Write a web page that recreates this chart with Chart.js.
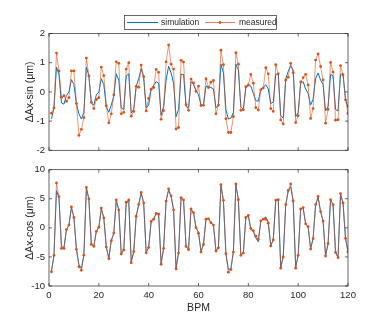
<!DOCTYPE html>
<html>
<head>
<meta charset="utf-8">
<script src="https://cdn.jsdelivr.net/npm/chart.js@4.4.1/dist/chart.umd.min.js"></script>
<style>
  body { margin: 0; background: #fff; }
  #wrap { position: relative; width: 374px; height: 336px; }
  canvas { position: absolute; left: 0; }
  #cSin { top: 0; }
  #cCos { top: 160px; }
</style>
</head>
<body>
<div id="wrap">
  <canvas id="cSin" width="374" height="160"></canvas>
  <canvas id="cCos" width="374" height="176"></canvas>
</div>
<script>
// BPM index 1..120
const bpm = Array.from({ length: 120 }, (_, i) => i + 1);

const xTicks = [0, 20, 40, 60, 80, 100, 120];
const sinTicks = [-2, -1, 0, 1, 2];
const cosTicks = [-10, -5, 0, 5, 10];

const sinMeasured = [
  -0.73, -0.55, 1.33, 0.72, -0.18, -0.13, -0.32, -0.2, 0.72, 0.72,
  -0.4, -1.49, -1.28, -0.88, 1.16, 0.55, -0.36, -0.57, -0.26, -0.2,
  0.85, 0.56, -0.48, -1.06, -0.75, -0.1, 1.03, 0.98, -0.75, -0.7,
  0.78, 1.0, -0.83, -0.67, 0.19, 0.16, 0.92, 0.52, -0.65, -0.22,
  0.09, 0.15, 0.77, 0.67, -0.94, -0.64, 1.03, 1.61, 0.95, 0.78,
  -1.27, -1.22, 1.08, 1.02, -0.44, -0.63, 0.44, 0.31, 0.02, 0.2,
  -0.47, -0.46, 0.45, 0.15, 0.33, 0.39, -0.75, -0.45, 1.43, 0.93,
  -0.92, -1.39, -1.39, -0.85, 1.34, 0.95, -0.63, -0.61, 0.18, 0.24,
  0.6, 0.3, -0.54, -0.62, 0.07, 0.13, 0.83, 0.62, -0.57, -0.67,
  0.93, 0.62, -0.96, -1.1, 0.41, 0.5, 0.98, 0.66, -1.05, -0.82,
  0.34, 0.49, 0.6, 0.24, -0.91, -0.57, 1.09, 1.3, 0.87, 0.41,
  -1.07, -0.6, 1.01, 0.68, -0.97, -0.95, 0.9, 0.58, -0.27, -0.74
];

const sinSimulation = [
  -0.92, -0.55, 0.85, 0.6, -0.38, -0.42, -0.12, 0.0, 0.42, 0.25,
  -0.4, -0.75, -0.93, -0.7, 0.85, 0.55, -0.38, -0.45, -0.1, 0.0,
  0.45, 0.25, -0.5, -0.7, -0.45, -0.15, 0.62, 0.4, -0.55, -0.6,
  0.55, 0.62, -0.72, -0.6, 0.2, 0.45, 0.8, 0.5, -0.55, -0.45,
  0.1, 0.22, 0.35, 0.3, -0.8, -0.5, 0.4, 0.88, 0.65, 0.3,
  -0.85, -0.6, 0.6, 0.6, -0.5, -0.55, 0.35, 0.25, 0.05, -0.1,
  -0.45, -0.45, 0.2, 0.18, 0.15, 0.1, -0.55, -0.45, 0.95, 0.65,
  -0.6, -0.93, -0.9, -0.7, 0.95, 0.75, -0.5, -0.6, 0.15, 0.22,
  0.2, -0.05, -0.3, -0.32, 0.1, 0.15, 0.25, 0.1, -0.4, -0.35,
  0.6, 0.62, -0.8, -0.9, 0.45, 0.7, 0.9, 0.75, -0.85, -0.7,
  0.3, 0.35, 0.1, -0.05, -0.45, -0.25, 0.45, 0.65, 0.4, 0.25,
  -0.65, -0.5, 0.6, 0.55, -0.6, -0.65, 0.6, 0.62, -0.25, -0.55
];

const cosMeasured = [
  -7.56, -4.73, 7.73, 5.35, -3.54, -3.54, -0.3, 0.48, 3.6, 1.78,
  -3.7, -6.7, -7.3, -4.7, 6.94, 5.0, -2.85, -3.2, -0.6, 0.1,
  3.4, 1.7, -3.3, -5.3, -2.2, -0.9, 4.8, 3.1, -4.5, -3.8,
  4.4, 4.8, -6.0, -4.1, 2.0, 4.0, 6.1, 4.3, -4.3, -3.4,
  1.1, 1.5, 2.5, 2.35, -6.26, -3.54, 4.6, 6.7, 5.5, 3.1,
  -7.06, -4.33, 5.2, 4.8, -3.2, -3.77, 3.26, 2.63, 0.03, -0.93,
  -4.16, -2.86, 1.5, 1.56, 0.88, 0.48, -4.0, -3.43, 7.45, 4.73,
  -4.45, -7.62, -7.17, -4.16, 7.56, 4.84, -4.73, -4.33, 1.78, 2.12,
  -0.08, -0.48, -1.44, -2.0, 1.2, 1.5, 1.5, 0.8, -3.1, -2.07,
  4.78, 4.84, -6.94, -5.0, 4.0, 6.43, 7.56, 4.62, -6.94, -4.73,
  3.26, 3.48, 0.7, 0.2, -3.65, -1.84, 4.0, 5.4, 2.8, 1.16,
  -4.84, -2.7, 4.84, 4.0, -4.22, -5.13, 5.9, 4.28, -1.8, -4.16
];

const cosSimulation = [
  -7.4, -4.7, 6.4, 5.2, -3.2, -3.4, -0.3, 0.5, 3.5, 1.8,
  -3.6, -6.3, -7.0, -4.6, 6.8, 5.0, -2.8, -3.1, -0.6, 0.1,
  3.3, 1.7, -3.3, -5.2, -2.2, -0.9, 4.7, 3.1, -4.4, -3.8,
  4.4, 4.7, -5.9, -4.1, 2.0, 4.0, 6.0, 4.3, -4.2, -3.4,
  1.1, 1.5, 2.5, 2.3, -6.1, -3.5, 4.6, 6.5, 5.4, 3.1,
  -6.9, -4.3, 5.1, 4.8, -3.2, -3.7, 3.2, 2.6, 0.1, -0.8,
  -4.0, -2.9, 1.5, 1.6, 0.9, 0.5, -3.9, -3.4, 7.3, 4.7,
  -4.4, -7.2, -7.0, -4.1, 7.4, 4.8, -4.6, -4.3, 1.8, 2.1,
  -0.3, -0.6, -1.7, -2.4, 1.1, 1.6, 1.85, 1.0, -3.0, -2.1,
  4.7, 4.8, -6.8, -5.0, 3.9, 6.3, 7.1, 4.6, -6.8, -4.7,
  3.2, 3.4, 0.7, 0.2, -3.6, -1.8, 3.9, 5.3, 2.8, 1.2,
  -4.8, -2.7, 4.8, 4.0, -4.2, -5.1, 5.8, 4.3, -1.8, -4.1
];

const BLUE = "#0072BD";
const ORANGE = "#D95319";
const AXIS = "#262626";
const FONT = "'Liberation Sans', Arial, Helvetica, sans-serif";

Chart.defaults.font.family = FONT;
Chart.defaults.color = AXIS;

const toXY = vals => vals.map((v, i) => ({ x: bpm[i], y: v }));

// MATLAB-like box with inward ticks on all four sides
const boxPlugin = {
    id: "matlabBox",
    afterDatasetsDraw(chart) {
        const { ctx, chartArea: a, scales } = chart;
        const len = 3;
        ctx.save();
        ctx.strokeStyle = AXIS;
        ctx.lineWidth = 0.7;
        ctx.beginPath();
        scales.x.ticks.forEach(t => {
            const px = scales.x.getPixelForValue(t.value);
            ctx.moveTo(px, a.bottom); ctx.lineTo(px, a.bottom - len);
            ctx.moveTo(px, a.top); ctx.lineTo(px, a.top + len);
        });
        scales.y.ticks.forEach(t => {
            const py = scales.y.getPixelForValue(t.value);
            ctx.moveTo(a.left, py); ctx.lineTo(a.left + len, py);
            ctx.moveTo(a.right, py); ctx.lineTo(a.right - len, py);
        });
        ctx.stroke();
        ctx.strokeRect(a.left, a.top, a.right - a.left, a.bottom - a.top);
        ctx.restore();
    }
};

// boxed legend like MATLAB's, drawn only on the top axes
const legendPlugin = {
    id: "boxLegend",
    afterDraw(chart) {
        const ctx = chart.ctx;
        const bx = 124.5, by = 15.5, bw = 152, bh = 14;
        const cy = by + bh / 2;
        ctx.save();
        ctx.fillStyle = "#fff";
        ctx.fillRect(bx, by, bw, bh);
        ctx.strokeStyle = AXIS;
        ctx.lineWidth = 0.7;
        ctx.strokeRect(bx, by, bw, bh);

        ctx.lineWidth = 1;
        ctx.strokeStyle = BLUE;
        ctx.beginPath(); ctx.moveTo(127, cy); ctx.lineTo(158, cy); ctx.stroke();
        ctx.strokeStyle = ORANGE;
        ctx.globalAlpha = 0.75;
        ctx.beginPath(); ctx.moveTo(205, cy); ctx.lineTo(235, cy); ctx.stroke();
        ctx.globalAlpha = 1;
        ctx.fillStyle = ORANGE;
        ctx.beginPath(); ctx.arc(220, cy, 1.4, 0, Math.PI * 2); ctx.fill();

        ctx.fillStyle = AXIS;
        ctx.font = "8.5px " + FONT;
        ctx.textBaseline = "middle";
        ctx.fillText("simulation", 161, cy + 0.5);
        ctx.fillText("measured", 239, cy + 0.5);
        ctx.restore();
    }
};

function makeDatasets(sim, meas) {
    return [
        {
            label: "simulation", data: toXY(sim), order: 2,
            borderColor: BLUE, borderWidth: 1, pointRadius: 0, tension: 0
        },
        {
            label: "measured", data: toXY(meas), order: 1,
            borderColor: "rgba(217,83,25,0.75)", borderWidth: 0.8,
            pointRadius: 1.4, pointBorderWidth: 0, pointBackgroundColor: ORANGE, tension: 0
        }
    ];
}

function makeOptions(yTicks, yTitle, showX, pad, xHeight) {
    return {
        responsive: false,
        animation: false,
        devicePixelRatio: 1,
        layout: { padding: pad },
        plugins: { legend: { display: false }, tooltip: { enabled: false } },
        scales: {
            x: {
                type: "linear", min: xTicks[0], max: xTicks[xTicks.length - 1],
                grid: { display: false, drawTicks: false, tickLength: 0 }, border: { display: false },
                ticks: { display: showX, stepSize: 20, padding: 4, font: { size: 9.5 }, color: AXIS },
                title: { display: showX, text: "BPM", font: { size: 10.5 }, color: AXIS, padding: { top: 0, bottom: 22 } },
                afterFit: s => { s.height = xHeight; }
            },
            y: {
                min: yTicks[0], max: yTicks[yTicks.length - 1],
                grid: { display: false, drawTicks: false, tickLength: 0 }, border: { display: false },
                ticks: { stepSize: yTicks[1] - yTicks[0], padding: 4, font: { size: 9.5 }, color: AXIS },
                title: { display: true, text: yTitle, font: { size: 10.5 }, color: AXIS, padding: { top: 24, bottom: 0 } },
                afterFit: s => { s.width = 49; }
            }
        }
    };
}

new Chart(document.getElementById("cSin"), {
    type: "line",
    data: { datasets: makeDatasets(sinSimulation, sinMeasured) },
    options: makeOptions(sinTicks, "ΔAx-sin (μm)", false, { top: 33.5, right: 26, left: 0, bottom: 0 }, 9.5),
    plugins: [boxPlugin, legendPlugin]
});

new Chart(document.getElementById("cCos"), {
    type: "line",
    data: { datasets: makeDatasets(cosSimulation, cosMeasured) },
    options: makeOptions(cosTicks, "ΔAx-cos (μm)", true, { top: 8.3, right: 26, left: 0, bottom: 0 }, 50),
    plugins: [boxPlugin]
});
</script>
</body>
</html>
